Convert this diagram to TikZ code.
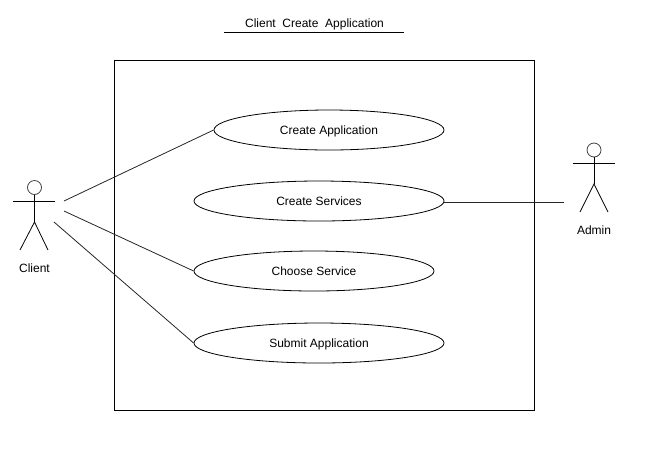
\documentclass[tikz,border=0pt]{standalone}
\usepackage{fontspec}
\setmainfont{Liberation Sans}
\usepackage{xcolor}
\usetikzlibrary{shapes.geometric,positioning,calc}

\begin{document}
\begin{tikzpicture}[
  x=0.75pt, y=-0.75pt,
  usecase/.style={ellipse, draw=black, line width=0.6pt, inner sep=0pt,
              minimum height=30pt, text height=6.5pt, text depth=0.5pt,
              font=\fontsize{9}{11}\selectfont},
  head/.style={circle, draw=black!75, line width=0.6pt, inner sep=0pt, minimum size=10.5pt},
  actorname/.style={font=\fontsize{9}{11}\selectfont},
  lnk/.style={draw=black!85, line width=0.6pt},
]
\useasboundingbox (0,0) rectangle (659,451);
\node[draw=black, line width=0.6pt, minimum width=315pt, minimum height=262.5pt, inner sep=0pt] (sys) at (324,235) {};
\node[font=\fontsize{9}{11}\selectfont] (title) at (314.5,24) {Client\ \ Create\ \ Application};
\coordinate (titleL) at (224,32);
\coordinate (titleR) at (404,32);
\draw[line width=0.6pt] (titleL) -- (titleR);
% use cases
\node[usecase, minimum width=172.5pt] (create) at (329,130) {Create Application};
\node[usecase, minimum width=187.5pt] (serv)   at (319,201) {Create Services};
\node[usecase, minimum width=180pt]   (choose) at (314,271) {Choose Service};
\node[usecase, minimum width=187.5pt] (submit) at (319,343) {Submit Application};
% client
\node[head] (chead) at (34.5,187.5) {};
\coordinate (carmL) at (13,201);
\coordinate (carmR) at (55,201);
\coordinate (chip)  at (34.5,222);
\coordinate (clegL) at (20,250);
\coordinate (clegR) at (48,250);
\draw[line width=0.6pt] (chead.south) -- (chip);
\draw[line width=0.6pt] (carmL) -- (carmR);
\draw[line width=0.6pt] (clegL) -- (chip) -- (clegR);
\node[actorname] (client) at (34.5,268) {Client};
% admin
\node[head] (ahead) at (594,150) {};
\coordinate (aarmL) at (573,163);
\coordinate (aarmR) at (615,163);
\coordinate (ahip)  at (594,184);
\coordinate (alegL) at (580,212);
\coordinate (alegR) at (608,212);
\draw[line width=0.6pt] (ahead.south) -- (ahip);
\draw[line width=0.6pt] (aarmL) -- (aarmR);
\draw[line width=0.6pt] (alegL) -- (ahip) -- (alegR);
\node[actorname] (admin) at (594,230) {Admin};
% links
\coordinate (c1) at (64,201);
\coordinate (c2) at (64,211);
\coordinate (c3) at (54,222);
\coordinate (a1) at (564,202);
\draw[lnk] (c1) -- (create.west);
\draw[lnk] (c2) -- (choose.west);
\draw[lnk] (c3) -- (submit.west);
\draw[lnk] (a1) -- (a1 -| serv.east);
\end{tikzpicture}
\end{document}
